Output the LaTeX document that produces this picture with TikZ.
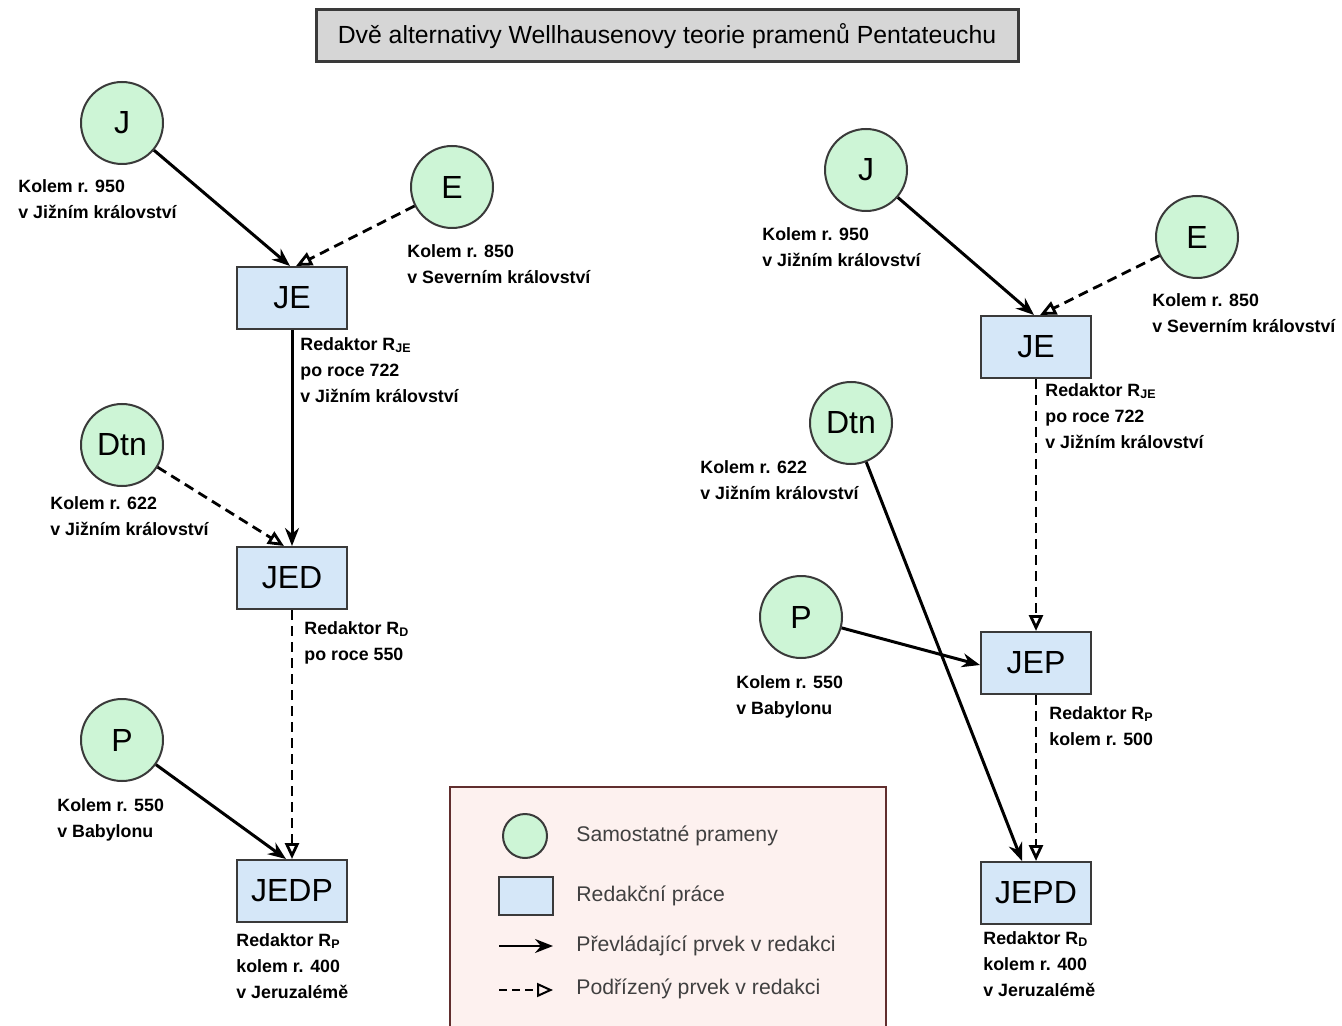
\documentclass[tikz,border=0pt]{standalone}
\usepackage{fontspec}
\setmainfont{Liberation Sans}
\usetikzlibrary{arrows.meta}

\definecolor{srcgreen}{HTML}{CDF5D6}
\definecolor{redblue}{HTML}{D5E7F8}
\definecolor{legpink}{HTML}{FDF1EF}
\definecolor{titlegray}{HTML}{D6D6D6}
\definecolor{edge}{HTML}{3A3A3A}

\tikzset{
  src/.style={draw=edge, line width=1pt, fill=srcgreen, circle, minimum size=41pt, inner sep=0pt, font=\fontsize{16}{16}\selectfont},
  redbox/.style={draw=edge, line width=1pt, fill=redblue, minimum width=55pt, minimum height=31pt, inner sep=0pt, font=\fontsize{16}{16}\selectfont},
  lab/.style={anchor=north west, align=left, inner sep=0pt, font=\fontsize{8.9}{13}\selectfont\bfseries},
  prev/.style={line width=1.5pt, -{Stealth[length=9pt,width=7pt]}},
  podr/.style={line width=1.4pt, dash pattern=on 5pt off 3pt, -{Triangle[open,length=8pt,width=7pt]}},
  legtext/.style={anchor=west, inner sep=0pt, text=black!75, font=\fontsize{10.6}{11}\selectfont}
}

\begin{document}
\begin{tikzpicture}[x=0.5pt, y=-0.5pt]

\path [use as bounding box, fill=white] (0,0) rectangle (1342,1026);

% TITLE
\node [draw=edge, line width=1.5pt, fill=titlegray, minimum width=351pt, minimum height=26pt, font=\fontsize{12.4}{12.4}\selectfont] (title) at (667,36) {Dvě alternativy Wellhausenovy teorie pramenů Pentateuchu};

% LEFT ALTERNATIVE
\node [src] (lJ) at (122,123) {J};
\node [src] (lE) at (452,187) {E};
\node [redbox] (lJE) at (292,298) {JE};
\node [src] (lDtn) at (122,445) {Dtn};
\node [redbox] (lJED) at (292,578) {JED};
\node [src] (lP) at (122,740) {P};
\node [redbox] (lJEDP) at (292,891) {JEDP};

\node [lab] (lJlab) at (18,179) {Kolem r. 950\\v Jižním království};
\node [lab] (lElab) at (407,244) {Kolem r. 850\\v Severním království};
\node [lab] (lJElab) at (300,337) {Redaktor R\textsubscript{JE}\\po roce 722\\v Jižním království};
\node [lab] (lDtnlab) at (50,496) {Kolem r. 622\\v Jižním království};
\node [lab] (lJEDlab) at (304,621) {Redaktor R\textsubscript{D}\\po roce 550};
\node [lab] (lPlab) at (57,798) {Kolem r. 550\\v Babylonu};
\node [lab] (lJEDPlab) at (236,933) {Redaktor R\textsubscript{P}\\kolem r. 400\\v Jeruzalémě};

\draw [prev] (lJ) -- ([xshift=-1pt]lJE.north);
\draw [podr] (lE) -- ([xshift=2pt]lJE.north);
\draw [prev] (lJE) -- (lJED);
\draw [podr] (lDtn) -- ([xshift=-4pt]lJED.north);
\draw [podr] (lJED) -- (lJEDP);
\draw [prev] (lP) -- ([xshift=-3pt]lJEDP.north);

% RIGHT ALTERNATIVE
\node [src] (rJ) at (866,170) {J};
\node [src] (rE) at (1197,237) {E};
\node [redbox] (rJE) at (1036,347) {JE};
\node [src] (rDtn) at (851,423) {Dtn};
\node [src] (rP) at (801,617) {P};
\node [redbox] (rJEP) at (1036,663) {JEP};
\node [redbox] (rJEPD) at (1036,893) {JEPD};

\node [lab] (rJlab) at (762,227) {Kolem r. 950\\v Jižním království};
\node [lab] (rElab) at (1152,293) {Kolem r. 850\\v Severním království};
\node [lab] (rJElab) at (1045,383) {Redaktor R\textsubscript{JE}\\po roce 722\\v Jižním království};
\node [lab] (rDtnlab) at (700,460) {Kolem r. 622\\v Jižním království};
\node [lab] (rPlab) at (736,675) {Kolem r. 550\\v Babylonu};
\node [lab] (rJEPlab) at (1049,706) {Redaktor R\textsubscript{P}\\kolem r. 500};
\node [lab] (rJEPDlab) at (983,931) {Redaktor R\textsubscript{D}\\kolem r. 400\\v Jeruzalémě};

\draw [prev] (rJ) -- ([xshift=-1pt]rJE.north);
\draw [podr] (rE) -- ([xshift=2pt]rJE.north);
\draw [podr] (rJE) -- (rJEP);
\draw [prev] (rDtn) -- ([xshift=-7pt]rJEPD.north);
\draw [prev] (rP) -- ([yshift=-1pt]rJEP.west);
\draw [podr] (rJEP) -- (rJEPD);

% LEGEND
\node [draw=edge!80!red, line width=1pt, fill=legpink, anchor=north west, minimum width=218pt, minimum height=124pt, inner sep=0pt] (legend) at (449,786) {};
\node [src, minimum size=22pt] (legsrc) at (525,836) {};
\node [redbox, minimum width=27pt, minimum height=19pt] (legred) at (526,896) {};
\coordinate (legpa) at (499,946);
\coordinate (legpb) at (553,946);
\coordinate (legda) at (499,990);
\coordinate (legdb) at (553,990);
\draw [prev, line width=1pt] (legpa) -- (legpb);
\draw [podr, line width=1pt, dash pattern=on 4pt off 2.5pt] (legda) -- (legdb);
\node [legtext] (legsrctext) at (576,836) {Samostatné prameny};
\node [legtext] (legredtext) at (576,896) {Redakční práce};
\node [legtext] (legprevtext) at (576,946) {Převládající prvek v redakci};
\node [legtext] (legpodrtext) at (576,989) {Podřízený prvek v redakci};

\end{tikzpicture}
\end{document}
